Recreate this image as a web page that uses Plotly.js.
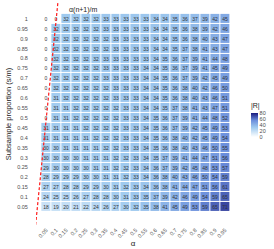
<!DOCTYPE html>
<html><head><meta charset="utf-8">
<script src="https://cdn.plot.ly/plotly-3.0.1.min.js"></script>
<style>html,body{margin:0;padding:0;background:#fff;} #chart{width:274px;height:249px;}</style>
</head><body><div id="chart"></div>
<script>
const alphaLevels = [0.05,0.1,0.15,0.2,0.25,0.3,0.35,0.4,0.45,0.5,0.55,0.6,0.65,0.7,0.75,0.8,0.85,0.9,0.95];
const alphaLabels = ['0.05','0.1','0.15','0.2','0.25','0.3','0.35','0.4','0.45','0.5','0.55','0.6','0.65','0.7','0.75','0.8','0.85','0.9','0.95'];
const subsampleProps = [1,0.95,0.9,0.85,0.8,0.75,0.7,0.65,0.6,0.55,0.5,0.45,0.4,0.35,0.3,0.25,0.2,0.15,0.1,0.05];
const subsampleLabels = ['1','0.95','0.9','0.85','0.8','0.75','0.7','0.65','0.6','0.55','0.5','0.45','0.4','0.35','0.3','0.25','0.2','0.15','0.1','0.05'];
// |R| per subsample proportion (rows, top to bottom) and alpha (columns)
const rejections = [
  [0,0,32,32,32,32,33,33,33,33,33,34,34,35,36,37,39,42,45],
  [0,32,32,32,32,32,33,33,33,33,33,34,34,35,36,38,39,42,46],
  [0,32,32,32,32,32,32,33,33,33,33,34,34,35,36,38,40,43,47],
  [0,32,32,32,32,32,32,33,33,33,33,34,34,35,37,38,41,43,47],
  [0,32,32,32,32,32,33,33,33,33,33,34,35,36,37,39,41,44,48],
  [0,32,32,32,32,32,33,33,33,33,34,34,35,36,37,39,41,45,49],
  [0,32,32,32,32,32,33,33,33,33,34,34,35,36,37,39,42,45,49],
  [0,32,32,32,32,32,32,33,33,33,34,34,35,36,38,40,42,46,50],
  [0,31,32,32,32,32,32,33,33,33,34,34,35,36,38,40,43,46,51],
  [0,31,31,32,32,32,32,32,33,33,34,34,35,37,38,41,43,47,51],
  [0,31,31,32,32,32,32,32,33,33,34,35,36,37,39,41,44,48,52],
  [31,31,31,31,32,32,32,32,33,33,34,35,36,37,39,42,45,49,53],
  [31,31,31,31,31,32,32,32,33,33,34,35,36,38,40,42,45,49,54],
  [30,30,31,31,31,31,32,32,33,33,34,35,36,38,40,43,46,50,55],
  [30,30,30,30,31,31,31,32,32,33,34,35,37,39,41,44,47,51,56],
  [29,30,30,30,30,31,31,32,32,33,34,36,37,39,42,45,48,53,57],
  [28,29,29,29,30,30,31,31,32,33,34,36,38,40,43,46,50,54,59],
  [27,27,28,28,29,29,30,31,32,33,34,36,38,41,44,47,51,56,61],
  [24,25,25,26,27,28,28,30,31,33,35,37,39,42,46,49,54,59,65],
  [18,19,20,21,22,24,26,27,30,32,35,38,41,45,49,53,59,65,71]
];
const boundaryAlpha = [-0.004, 0.108];
const boundaryS = [-0.04, 1.08];
const colorTicks = [0,20,40,60,80];

const font = 'Liberation Sans, Arial, sans-serif';
const heat = {
  type: 'heatmap',
  x: alphaLevels, y: subsampleProps, z: rejections,
  zmin: 0, zmax: 80,
  xgap: 1, ygap: 1,
  colorscale: [[0,'#ffffff'],[0.4,'#9fcaef'],[0.7,'#6a8ddb'],[1,'#1b1b7e']],
  texttemplate: '%{z}',
  textfont: {size: 5, color: '#333333', family: font},
  hoverinfo: 'skip',
  colorbar: {
    x: 1.108, xanchor: 'left', xpad: 0,
    y: 0.48, yanchor: 'middle', ypad: 0,
    len: 37, lenmode: 'pixels', thickness: 7,
    outlinewidth: 0,
    tickvals: colorTicks, ticks: '',
    tickfont: {size: 5.5, color: '#4d4d4d', family: font},
    title: {text: '|R|', side: 'top', font: {size: 7, color: '#222', family: font}}
  }
};
const boundary = {
  type: 'scatter', mode: 'lines',
  x: boundaryAlpha, y: boundaryS,
  line: {color: '#ff1a1a', width: 1.2, dash: '3px,2px'},
  hoverinfo: 'skip', showlegend: false
};
const layout = {
  width: 274, height: 249,
  margin: {l: 36, r: 44, t: 3, b: 24},
  paper_bgcolor: '#fff', plot_bgcolor: '#fff',
  font: {family: font},
  showlegend: false,
  xaxis: {
    range: [-0.002, 0.975], showgrid: false, zeroline: false, showline: false,
    tickvals: alphaLevels, ticktext: alphaLabels, tickangle: -45,
    ticks: '', tickfont: {size: 5.5, color: '#4d4d4d', family: font},
    title: {text: 'α', font: {size: 8, color: '#222', family: font}, standoff: 2}
  },
  yaxis: {
    range: [-0.04, 1.08], showgrid: false, zeroline: false, showline: false,
    tickvals: subsampleProps, ticktext: subsampleLabels,
    ticks: 'outside', ticklen: 6, tickcolor: 'rgba(0,0,0,0)',
    tickfont: {size: 5.5, color: '#4d4d4d', family: font},
    title: {text: 'Subsample proportion (s/m)', font: {size: 7.5, color: '#222', family: font}, standoff: 4}
  },
  annotations: [{
    x: 0.155, y: 1.045, xref: 'x', yref: 'y', xanchor: 'left', yanchor: 'middle',
    text: 'α(n+1)/m', showarrow: false,
    font: {size: 7, color: '#222', family: font}
  }]
};
Plotly.newPlot('chart', [heat, boundary], layout, {displayModeBar: false, staticPlot: true});
</script></body></html>
